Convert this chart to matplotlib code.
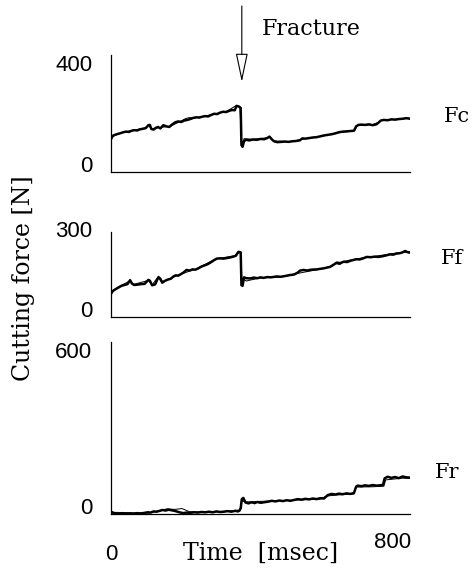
import matplotlib
matplotlib.use("Agg")
import matplotlib.pyplot as plt

# ---- measured cutting-force traces (time in msec, force in N) ----
FRACTURE_MS = 350

FC_T = [0, 4, 10, 18, 26, 33, 40, 48, 55, 62, 70, 78, 86, 93, 100, 104, 108, 114, 120, 126,
        132, 140, 148, 156, 164, 172, 180, 188, 196, 204, 212, 220, 228, 236, 244, 252, 260, 268, 276, 284,
        292, 300, 308, 316, 324, 331, 336, 342, 347, 349, 352, 356, 362, 370, 380, 390, 400, 410, 418, 424,
        430, 436, 445, 455, 465, 475, 485, 495, 505, 512, 520, 530, 540, 550, 560, 570, 580, 590, 600, 610,
        620, 630, 640, 650, 656, 662, 670, 680, 690, 700, 710, 716, 722, 730, 740, 750, 760, 770, 780, 790, 800]
FC_V = [112, 123, 127, 130, 133, 136, 138, 137, 141, 143, 142, 146, 148, 150, 160, 161, 147, 145, 151, 154,
        149, 160, 156, 154, 163, 170, 173, 171, 176, 178, 181, 185, 187, 186, 189, 191, 190, 195, 199, 198,
        203, 206, 205, 209, 212, 211, 226, 224, 219, 92, 86, 106, 110, 108, 111, 110, 113, 112, 116, 121,
        112, 105, 102, 103, 104, 103, 105, 106, 108, 115, 114, 116, 118, 119, 122, 125, 127, 129, 132, 136,
        138, 139, 140, 141, 156, 161, 162, 161, 163, 160, 163, 169, 176, 178, 177, 180, 179, 181, 182, 184, 182]
FC2_T = [0, 10, 30, 60, 90, 100, 108, 130, 160, 190, 200, 210, 220, 250, 280, 310, 336, 345, 349, 352,
         356, 380, 420, 424, 436, 480, 520, 560, 600, 640, 652, 658, 700, 716, 724, 760, 800]
FC2_V = [115, 125, 135, 143, 150, 159, 148, 152, 157, 176, 183, 186, 184, 191, 199, 208, 228, 222, 100, 96,
         114, 112, 117, 120, 106, 104, 114, 121, 133, 139, 142, 159, 162, 170, 177, 180, 184]

FF_T = [0, 5, 12, 20, 28, 36, 44, 51, 56, 62, 70, 80, 90, 100, 104, 110, 118, 127, 132, 137,
        145, 152, 160, 167, 173, 180, 188, 195, 202, 210, 218, 226, 234, 242, 250, 258, 266, 274, 283, 292,
        301, 310, 318, 327, 334, 341, 347, 349, 352, 356, 362, 372, 382, 392, 400, 408, 418, 428, 443, 455,
        467, 479, 490, 500, 506, 515, 525, 535, 550, 560, 570, 586, 595, 604, 613, 622, 632, 642, 657, 665,
        675, 684, 695, 705, 715, 729, 738, 746, 755, 764, 772, 780, 787, 793, 800]
FF_V = [82, 92, 98, 104, 110, 113, 116, 130, 118, 113, 114, 116, 117, 131, 128, 112, 115, 141, 135, 121,
        128, 132, 135, 143, 147, 146, 152, 158, 166, 164, 168, 167, 172, 178, 182, 186, 192, 199, 206, 207,
        206, 208, 210, 213, 216, 230, 228, 112, 110, 140, 137, 136, 139, 137, 140, 138, 141, 140, 143, 142,
        145, 148, 150, 157, 164, 166, 164, 167, 168, 170, 172, 177, 184, 192, 190, 195, 194, 199, 204, 203,
        207, 212, 211, 213, 212, 215, 218, 221, 220, 224, 225, 228, 233, 229, 227]
FF2_T = [0, 20, 51, 60, 100, 110, 122, 127, 133, 140, 180, 230, 280, 330, 341, 348, 350, 356, 362, 375,
         400, 450, 500, 560, 590, 600, 612, 625, 660, 700, 760, 800]
FF2_V = [85, 106, 128, 115, 129, 113, 135, 139, 128, 126, 148, 171, 205, 216, 228, 226, 120, 132, 127, 131,
         138, 141, 154, 169, 178, 189, 185, 197, 206, 213, 225, 230]

FR_T = [0, 6, 12, 20, 30, 40, 50, 60, 70, 80, 90, 98, 106, 114, 122, 130, 138, 146, 154, 162,
        170, 178, 186, 194, 202, 212, 222, 232, 242, 252, 262, 272, 282, 292, 302, 312, 322, 332, 340, 344,
        347, 350, 354, 360, 368, 376, 384, 392, 400, 410, 420, 430, 440, 450, 460, 470, 480, 490, 500, 510,
        520, 530, 540, 550, 560, 570, 580, 590, 600, 610, 620, 630, 640, 650, 656, 660, 670, 680, 690, 700,
        710, 720, 728, 732, 740, 750, 760, 770, 780, 790, 800]
FR_V = [8, 4, 2, 1, 3, 1, 2, 1, 3, 2, 4, 6, 5, 9, 8, 11, 14, 12, 15, 13,
        11, 8, 5, 3, 5, 4, 6, 5, 7, 6, 8, 6, 9, 7, 8, 10, 8, 11, 9, 12,
        20, 52, 56, 40, 37, 41, 38, 42, 39, 41, 43, 46, 44, 47, 45, 48, 46, 49, 52, 50,
        53, 51, 54, 52, 55, 54, 66, 70, 68, 71, 69, 72, 70, 73, 96, 99, 97, 100, 98, 101,
        99, 100, 102, 124, 130, 126, 129, 125, 131, 128, 127]
FR2_T = [0, 100, 130, 150, 170, 190, 210, 260, 300, 345, 350, 360, 420, 500, 560, 575, 600, 650, 656, 700,
         730, 735, 780, 800]
FR2_V = [6, 3, 12, 18, 16, 19, 8, 6, 9, 14, 46, 42, 45, 49, 52, 62, 66, 70, 94, 95,
         97, 119, 125, 124]

COMPONENTS = ["Fc", "Ff", "Fr"]
Y_MAX = [400, 300, 600]
X_TICKS = [0, 800]

SERIF = "DejaVu Serif"
SANS = "Liberation Sans"

W, H = 475, 578
fig = plt.figure(figsize=(W / 100, H / 100), dpi=100)


def box(left, top, right, bottom):
    return [left / W, 1 - bottom / H, (right - left) / W, (bottom - top) / H]


boxes = [box(111, 55, 410, 172), box(111, 232, 410, 317), box(111, 342, 410, 514)]
traces = [((FC_T, FC_V), (FC2_T, FC2_V)),
          ((FF_T, FF_V), (FF2_T, FF2_V)),
          ((FR_T, FR_V), (FR2_T, FR2_V))]
top_va = ["top", "center", "top"]
name_pos = [(457, 116), (452, 258), (447, 473)]

axes = []
for i, rect in enumerate(boxes):
    ax = fig.add_axes(rect)
    (t1, v1), (t2, v2) = traces[i]
    ax.plot(t2, v2, color="black", lw=0.7)
    ax.plot(t1, v1, color="black", lw=1.8)
    ax.set_xlim(0, 800)
    ax.set_ylim(0, Y_MAX[i])
    for side in ("top", "right"):
        ax.spines[side].set_visible(False)
    for side in ("left", "bottom"):
        ax.spines[side].set_linewidth(0.9)
    ax.set_xticks([])
    ax.set_yticks([0, Y_MAX[i]])
    ax.tick_params(axis="y", length=0, pad=13.5)
    labels = ax.set_yticklabels([str(0), str(Y_MAX[i])], family=SANS, fontsize=16)
    labels[0].set_verticalalignment("baseline")
    labels[1].set_verticalalignment(top_va[i])
    fig.text(name_pos[i][0] / W, 1 - name_pos[i][1] / H, COMPONENTS[i],
             family=SERIF, fontsize=15, ha="center", va="center")
    axes.append(ax)

ax1, ax2, ax3 = axes

# time axis labels
ax3.annotate(str(X_TICKS[0]), xy=(X_TICKS[0], 0), xycoords=("data", "axes fraction"),
             xytext=(0, -41), textcoords="offset pixels", ha="center", va="center",
             family=SANS, fontsize=16)
ax3.annotate(str(X_TICKS[1]), xy=(X_TICKS[1], 0), xycoords=("data", "axes fraction"),
             xytext=(1, -29), textcoords="offset pixels", ha="right", va="center",
             family=SANS, fontsize=16)
ax3.set_xlabel("Time  [msec]", family=SERIF, fontsize=17, va="center")
ax3.xaxis.set_label_coords(0.5, -(553 - 514) / 172)

fig.text(24 / W, 1 - 278 / H, "Cutting force [N]", rotation=90, family=SERIF,
         fontsize=17, ha="center", va="center")

# fracture marker
ax1.annotate("", xy=(FRACTURE_MS, (172 - 82) / 117), xycoords=("data", "axes fraction"),
             xytext=(FRACTURE_MS, (172 - 6) / 117), textcoords=("data", "axes fraction"),
             annotation_clip=False,
             arrowprops=dict(arrowstyle="-|>,head_length=1.8,head_width=0.38",
                             mutation_scale=10, fc="white", ec="black", lw=0.8,
                             shrinkA=0, shrinkB=0))
fig.text(262 / W, 1 - 29 / H, "Fracture", family=SERIF, fontsize=16, ha="left", va="center")

fig.savefig("out.png", dpi=100)
